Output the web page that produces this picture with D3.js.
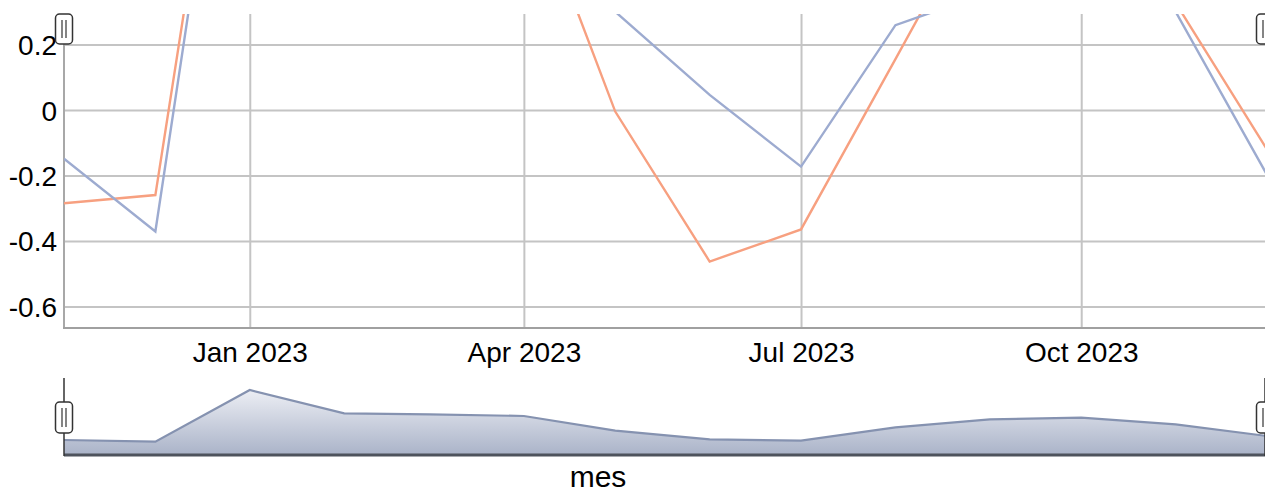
<!DOCTYPE html>
<html>
<head>
<meta charset="utf-8">
<script src="https://cdn.jsdelivr.net/npm/d3@7"></script>
<style>
  html, body { margin: 0; padding: 0; background: #fff; }
  svg { display: block; font-family: "Liberation Sans", Arial, sans-serif; }
</style>
</head>
<body>
<svg id="chart" width="1265" height="493"></svg>
<script>
// ---- data ----
const months = ["2022-11-01","2022-12-01","2023-01-01","2023-02-01","2023-03-01","2023-04-01",
                "2023-05-01","2023-06-01","2023-07-01","2023-08-01","2023-09-01","2023-10-01",
                "2023-11-01","2023-12-01"];
const seriesBlue   = [-0.149, -0.371, 1.54, 1.20, 0.95, 0.75, 0.30, 0.046, -0.173, 0.259, 0.36, 0.85, 0.30, -0.198];
const seriesOrange = [-0.285, -0.260, 1.585, 1.25, 0.95, 0.73, -0.005, -0.463, -0.365, 0.155, 0.68, 0.95, 0.327, -0.121];
const navigatorValues = [14, 12.3, 64, 40.7, 39.7, 38, 23.3, 14.7, 13.3, 26.7, 34.7, 36.3, 29.7, 18];
const yTicks = [-0.6, -0.4, -0.2, 0, 0.2];
const yTickLabels = ["-0.6", "-0.4", "-0.2", "0", "0.2"];
const axisTitle = "mes";

// ---- setup ----
const svg = d3.select("#chart");
const parse = d3.utcParse("%Y-%m-%d");
const dates = months.map(parse);

const plot = { left: 64, right: 1267, top: 14, bottom: 328 };
const x = d3.scaleUtc().domain([dates[0], dates[dates.length - 1]]).range([plot.left, plot.right]);
const y = d3.scaleLinear().domain([-0.666, 0.293]).range([plot.bottom, plot.top]);

const nav = { top: 384, bottom: 454 };
const yNav = d3.scaleLinear().domain([0, 70]).range([nav.bottom, nav.top]);

// clip
const defs = svg.append("defs");
defs.append("clipPath").attr("id", "clip")
  .append("rect").attr("x", plot.left).attr("y", plot.top)
  .attr("width", plot.right - plot.left).attr("height", plot.bottom - plot.top);

const grad = defs.append("linearGradient").attr("id", "navGrad")
  .attr("x1", 0).attr("y1", 0).attr("x2", 0).attr("y2", 1);
grad.append("stop").attr("offset", "0%").attr("stop-color", "#eceef4");
grad.append("stop").attr("offset", "100%").attr("stop-color", "#abb4c9");

const fontFam = "Liberation Sans, Arial, sans-serif";

// grid lines (horizontal) + y labels
const gY = svg.append("g")
  .attr("transform", `translate(${plot.left},0)`)
  .call(d3.axisLeft(y).tickValues(yTicks)
    .tickSize(-(plot.right - plot.left))
    .tickFormat((d, i) => yTickLabels[i]).tickPadding(7));
gY.select(".domain").remove();
gY.selectAll(".tick line").attr("stroke", "#c4c4c4").attr("stroke-width", 2);
gY.selectAll(".tick text").attr("font-size", 28).attr("fill", "#000").attr("font-family", fontFam)
  .attr("dy", "0.36em");

// grid lines (vertical) + x labels
const xTicks = d3.utcMonth.every(3).range(dates[0], dates[dates.length - 1]);
const gX = svg.append("g")
  .attr("transform", `translate(0,${plot.bottom})`)
  .call(d3.axisBottom(x).tickValues(xTicks)
    .tickSize(-(plot.bottom - plot.top))
    .tickFormat(d3.utcFormat("%b %Y")).tickPadding(14));
gX.select(".domain").remove();
gX.selectAll(".tick line").attr("stroke", "#c4c4c4").attr("stroke-width", 2);
gX.selectAll(".tick text").attr("font-size", 28).attr("fill", "#000").attr("font-family", fontFam);

// axis lines
svg.append("line").attr("x1", plot.left).attr("x2", plot.left)
  .attr("y1", plot.top).attr("y2", plot.bottom).attr("stroke", "#a8a8a8").attr("stroke-width", 2);
svg.append("line").attr("x1", plot.left - 1).attr("x2", plot.right)
  .attr("y1", plot.bottom).attr("y2", plot.bottom).attr("stroke", "#a0a0a0").attr("stroke-width", 2);

// series lines
const line = (vals) => d3.line().x((d, i) => x(dates[i])).y(d => y(d))(vals);
const gLines = svg.append("g").attr("clip-path", "url(#clip)");
gLines.append("path").attr("d", line(seriesOrange)).attr("fill", "none")
  .attr("stroke", "#f7a080").attr("stroke-width", 2.4);
gLines.append("path").attr("d", line(seriesBlue)).attr("fill", "none")
  .attr("stroke", "#9dabd0").attr("stroke-width", 2.4);

// navigator
const area = d3.area().x((d, i) => x(dates[i])).y0(nav.bottom).y1(d => yNav(d));
const navLine = d3.line().x((d, i) => x(dates[i])).y(d => yNav(d));
svg.append("path").attr("d", area(navigatorValues)).attr("fill", "url(#navGrad)");
svg.append("path").attr("d", navLine(navigatorValues)).attr("fill", "none")
  .attr("stroke", "#8592b0").attr("stroke-width", 2.2);
svg.append("line").attr("x1", plot.left).attr("x2", plot.right)
  .attr("y1", nav.bottom + 1).attr("y2", nav.bottom + 1)
  .attr("stroke", "#4e535d").attr("stroke-width", 3);

// handles
function handle(cx, top, h) {
  const g = svg.append("g");
  g.append("rect").attr("x", cx - 8.5).attr("y", top).attr("width", 17).attr("height", h)
    .attr("rx", 4).attr("fill", "#fff").attr("stroke", "#333").attr("stroke-width", 1.5);
  g.append("line").attr("x1", cx - 2).attr("x2", cx - 2).attr("y1", top + 6).attr("y2", top + h - 6)
    .attr("stroke", "#333").attr("stroke-width", 1.2);
  g.append("line").attr("x1", cx + 2).attr("x2", cx + 2).attr("y1", top + 6).attr("y2", top + h - 6)
    .attr("stroke", "#333").attr("stroke-width", 1.2);
}
[plot.left, 1265].forEach(hx => {
  svg.append("line").attr("x1", hx).attr("x2", hx).attr("y1", 378).attr("y2", nav.bottom + 2)
    .attr("stroke", "#333").attr("stroke-width", 1.5);
  handle(hx, 402, 31);
  handle(hx, 14, 30);
});

// axis title
svg.append("text").attr("x", 598).attr("y", 487).attr("text-anchor", "middle")
  .attr("font-size", 30).attr("fill", "#000").attr("font-family", fontFam).text(axisTitle);
</script>
</body>
</html>
